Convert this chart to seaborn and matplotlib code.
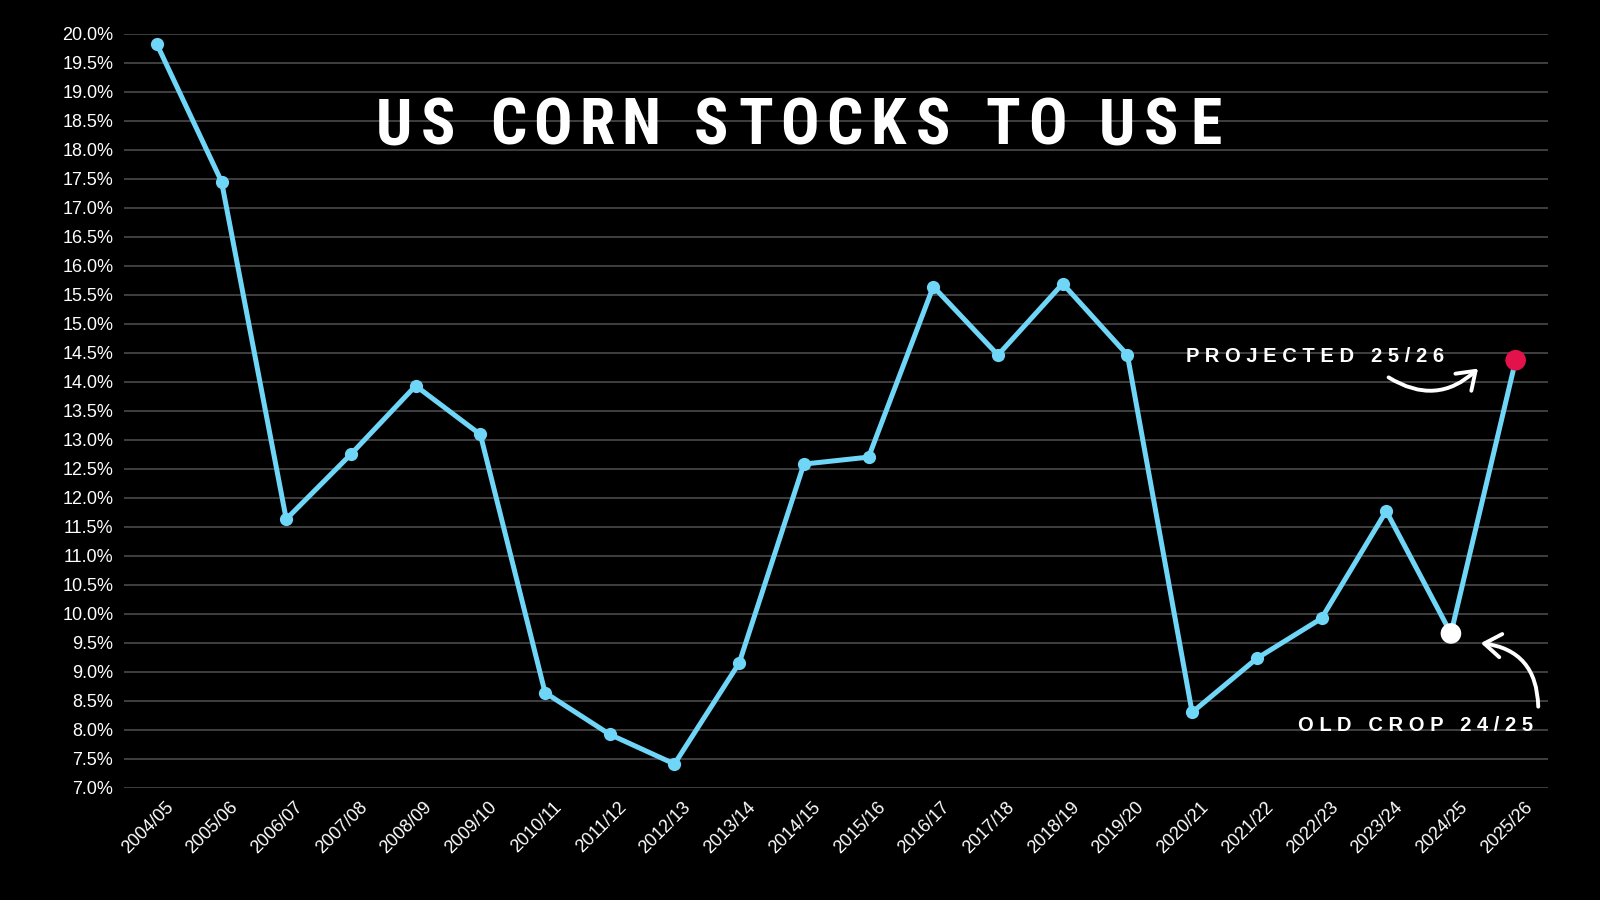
import numpy as np
import pandas as pd
import matplotlib
matplotlib.use("Agg")
import matplotlib.pyplot as plt
import matplotlib.transforms as mtransforms
import seaborn as sns

# marketing years and stocks-to-use ratio (%)
years = ["2004/05", "2005/06", "2006/07", "2007/08", "2008/09", "2009/10",
         "2010/11", "2011/12", "2012/13", "2013/14", "2014/15", "2015/16",
         "2016/17", "2017/18", "2018/19", "2019/20", "2020/21", "2021/22",
         "2022/23", "2023/24", "2024/25", "2025/26"]
stocks_to_use = [19.82, 17.45, 11.63, 12.75, 13.93, 13.09,
                 8.64, 7.92, 7.41, 9.15, 12.58, 12.70,
                 15.64, 14.46, 15.69, 14.46, 8.30, 9.23,
                 9.92, 11.77, 9.66, 14.37]
y_ticks = np.arange(7.0, 20.01, 0.5)
title = "US CORN STOCKS TO USE"

df = pd.DataFrame({"year": years, "pct": stocks_to_use})
df["idx"] = range(len(df))

sns.set_theme(style="dark")
plt.rcParams["font.family"] = ["Liberation Sans", "DejaVu Sans"]

line_col = "#6fd6f7"
fig = plt.figure(figsize=(16, 9), dpi=100, facecolor="black")
ax = fig.add_axes([0.0778, 0.1247, 0.8897, 0.8379])
ax.set_facecolor("black")

ax.set_yticks(y_ticks)
ax.grid(axis="y", color="#4a4a4a", linewidth=1.2)
ax.grid(axis="x", visible=False)

sns.lineplot(data=df, x="idx", y="pct", ax=ax, color=line_col, linewidth=3.6,
             marker="o", markersize=9.5, markeredgewidth=0, zorder=3)

# highlight last two seasons
old = df.iloc[[-2]]
proj = df.iloc[[-1]]
sns.scatterplot(data=old, x="idx", y="pct", ax=ax, color="white", s=220,
                edgecolor="none", zorder=4)
sns.scatterplot(data=proj, x="idx", y="pct", ax=ax, color="#e3124b", s=220,
                edgecolor="none", zorder=4)

ax.set_xlim(-0.5, len(years) - 0.5)
ax.set_ylim(7.0, 20.0)
ax.set_xticks(df["idx"])
ax.set_xticklabels(years, rotation=45, ha="right", rotation_mode="anchor")
ax.set_yticklabels([f"{v:.1f}%" for v in y_ticks])
ax.tick_params(colors="white", labelsize=13, length=0, pad=8)
shift = mtransforms.ScaledTranslation(8 / 100, 0, fig.dpi_scale_trans)
for lab in ax.get_xticklabels():
    lab.set_transform(lab.get_transform() + shift)
ax.set_xlabel("")
ax.set_ylabel("")
for s in ax.spines.values():
    s.set_visible(False)

# spaced-out title, one letter at a time
x0, pitch, word_step = 394 / 1600, 44.3 / 1600, 70 / 1600
xpos = x0
for i, ch in enumerate(title):
    if ch == " ":
        continue
    fig.text(xpos, 0.859, ch, color="white", fontsize=46, fontweight="bold",
             ha="center", va="center",
             family=["Roboto Condensed", "Roboto", "DejaVu Sans"])
    nxt = title[i + 1] if i + 1 < len(title) else ""
    xpos += word_step if nxt == " " else pitch

# annotations
ax.text(17.9, proj["pct"].iloc[0] + 0.06, "P R O J E C T E D   2 5 / 2 6",
        color="white", fontsize=14.5, fontweight="bold", ha="center", va="center")
ax.annotate("", xy=(20.45, 14.26), xytext=(19.0, 14.1),
            arrowprops=dict(arrowstyle="->,head_length=0.5,head_width=0.35",
                            color="white", lw=2.8,
                            connectionstyle="arc3,rad=0.4", mutation_scale=24))
ax.text(19.45, 8.07, "O L D   C R O P   2 4 / 2 5",
        color="white", fontsize=14.5, fontweight="bold", ha="center", va="center")
ax.annotate("", xy=(20.42, 9.5), xytext=(21.35, 8.35),
            arrowprops=dict(arrowstyle="->,head_length=0.5,head_width=0.35",
                            color="white", lw=2.8,
                            connectionstyle="arc3,rad=0.45", mutation_scale=24))

fig.savefig("out.png", dpi=100, facecolor="black")
